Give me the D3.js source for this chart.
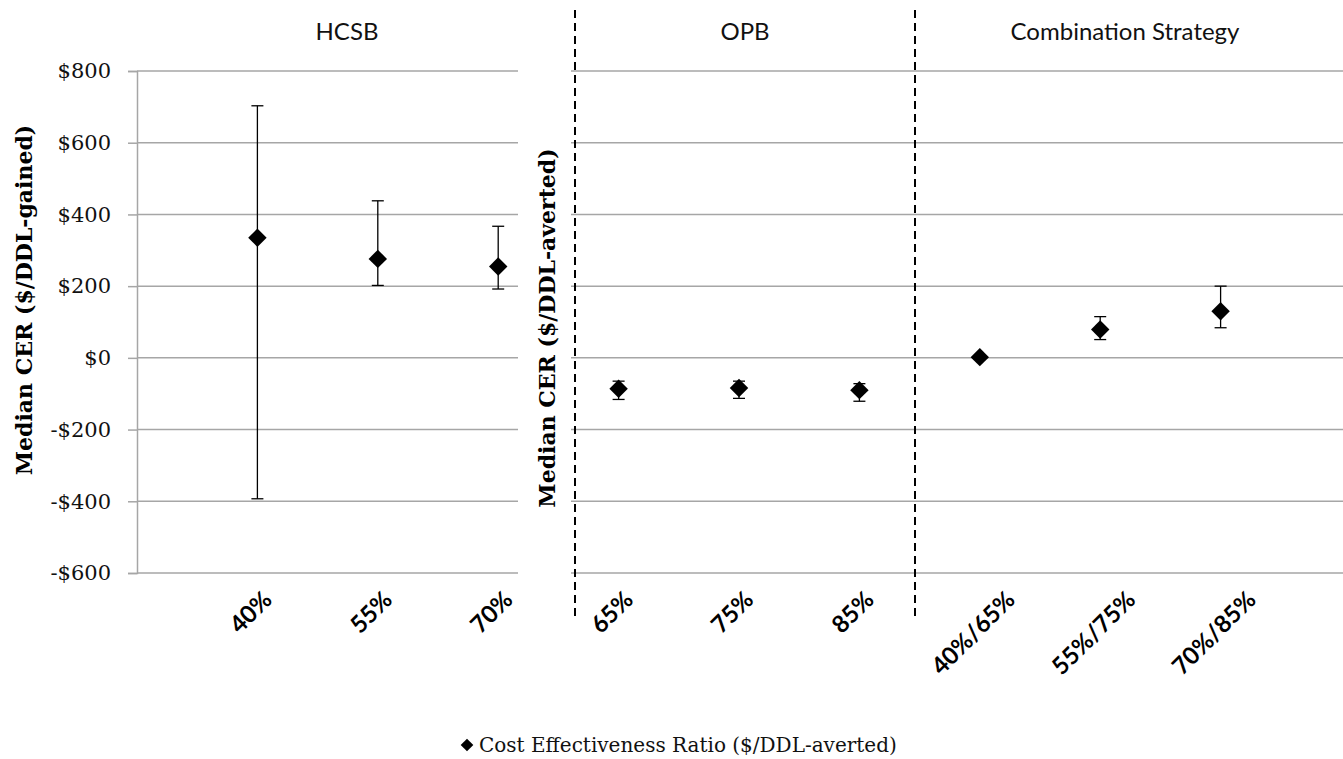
<!DOCTYPE html>
<html>
<head>
<meta charset="utf-8">
<script src="https://cdn.jsdelivr.net/npm/d3@7"></script>
<style>
  body { margin: 0; background: #fff; }
  svg { display: block; }
</style>
</head>
<body>
<svg id="chart" width="1343" height="759"></svg>
<script>
(function () {
  'use strict';

  // values
  var hcsbCategories = ['40%', '55%', '70%'];
  var hcsbMedian = [335, 276, 255];
  var hcsbLow = [-393, 202, 192];
  var hcsbHigh = [703, 438, 367];

  var opbCategories = ['65%', '75%', '85%'];
  var opbMedian = [-86, -84, -90];
  var opbLow = [-116, -113, -121];
  var opbHigh = [-65, -65, -72];

  var comboCategories = ['40%/65%', '55%/75%', '70%/85%'];
  var comboMedian = [2, 79, 130];
  var comboLow = [-2, 51, 84];
  var comboHigh = [6, 115, 200];

  var panelTitles = ['HCSB', 'OPB', 'Combination Strategy'];
  var yTicks = [-600, -400, -200, 0, 200, 400, 600, 800];
  var legendLabel = 'Cost Effectiveness Ratio ($/DDL-averted)';

  var sansFont = 'Lato, "Open Sans", sans-serif';
  var serifFont = '"DejaVu Serif", "Liberation Serif", serif';
  var gridColor = '#a6a6a6';

  var svg = d3.select('#chart');

  // one long category axis, split into three panels by the dashed lines
  var categories = hcsbCategories.concat(opbCategories, comboCategories);
  var points = [];
  [[hcsbCategories, hcsbMedian, hcsbLow, hcsbHigh],
   [opbCategories, opbMedian, opbLow, opbHigh],
   [comboCategories, comboMedian, comboLow, comboHigh]].forEach(function (g) {
    g[0].forEach(function (c, i) {
      points.push({ cat: c, median: g[1][i], low: g[2][i], high: g[3][i] });
    });
  });

  var x = d3.scalePoint().domain(categories).range([137, 1341]).padding(1);
  var y = d3.scaleLinear().domain([-600, 800]).range([573, 71]);

  var leftEnd = 518;      // end of the HCSB grid
  var midStart = 575;     // first dashed divider (also 2nd y axis)
  var rightDivider = 915; // second dashed divider

  // gridlines
  var grid = svg.append('g');
  grid.selectAll('.gl')
    .data(yTicks)
    .enter().append('line')
    .attr('x1', 137).attr('x2', leftEnd)
    .attr('y1', function (d) { return y(d); })
    .attr('y2', function (d) { return y(d); })
    .attr('stroke', gridColor).attr('stroke-width', 1.5);
  grid.selectAll('.gr')
    .data(yTicks)
    .enter().append('line')
    .attr('x1', midStart - 4).attr('x2', 1343)
    .attr('y1', function (d) { return y(d); })
    .attr('y2', function (d) { return y(d); })
    .attr('stroke', gridColor).attr('stroke-width', 1.5);

  // left y axis
  var yAxis = d3.axisLeft(y)
    .tickValues(yTicks)
    .tickSize(9)
    .tickPadding(17)
    .tickFormat(function (d) { return (d < 0 ? '-$' : '$') + Math.abs(d); });
  var ay = svg.append('g').attr('transform', 'translate(137,0)').call(yAxis);
  ay.select('.domain').attr('stroke', gridColor).attr('stroke-width', 1.5);
  ay.selectAll('.tick line').attr('stroke', gridColor).attr('stroke-width', 1.5);
  ay.selectAll('.tick text')
    .attr('font-family', serifFont)
    .attr('font-size', 21)
    .attr('fill', '#111');

  // dashed dividers
  svg.selectAll('.divider')
    .data([midStart, rightDivider])
    .enter().append('line')
    .attr('x1', function (d) { return d; })
    .attr('x2', function (d) { return d; })
    .attr('y1', 10).attr('y2', 618)
    .attr('stroke', '#000')
    .attr('stroke-width', 2)
    .attr('stroke-dasharray', '8,5');

  // axis titles
  svg.append('text')
    .attr('transform', 'translate(24,300) rotate(-90)')
    .attr('text-anchor', 'middle')
    .attr('dy', '0.35em')
    .attr('font-family', serifFont)
    .attr('font-weight', 'bold')
    .attr('font-size', 22)
    .text('Median CER ($/DDL-gained)');
  svg.append('text')
    .attr('transform', 'translate(547,328) rotate(-90)')
    .attr('text-anchor', 'middle')
    .attr('dy', '0.35em')
    .attr('font-family', serifFont)
    .attr('font-weight', 'bold')
    .attr('font-size', 22)
    .text('Median CER ($/DDL-averted)');

  // panel titles
  svg.selectAll('.ptitle')
    .data(panelTitles)
    .enter().append('text')
    .attr('x', function (d, i) { return [347, 745, 1125][i]; })
    .attr('y', 40)
    .attr('text-anchor', 'middle')
    .attr('font-family', sansFont)
    .attr('font-size', 24)
    .attr('fill', '#111')
    .text(function (d) { return d; });

  // error bars
  var capW = 6;
  var bars = svg.append('g').attr('stroke', '#000').attr('stroke-width', 1.3);
  bars.selectAll('.stem')
    .data(points)
    .enter().append('line')
    .attr('x1', function (d) { return x(d.cat); })
    .attr('x2', function (d) { return x(d.cat); })
    .attr('y1', function (d) { return y(d.low); })
    .attr('y2', function (d) { return y(d.high); });
  ['low', 'high'].forEach(function (k) {
    bars.selectAll('.cap-' + k)
      .data(points)
      .enter().append('line')
      .attr('x1', function (d) { return x(d.cat) - capW; })
      .attr('x2', function (d) { return x(d.cat) + capW; })
      .attr('y1', function (d) { return y(d[k]); })
      .attr('y2', function (d) { return y(d[k]); });
  });

  // diamond markers
  var diamond = d3.symbol().type(d3.symbolSquare).size(170);
  svg.selectAll('.marker')
    .data(points)
    .enter().append('path')
    .attr('d', diamond)
    .attr('transform', function (d) {
      return 'translate(' + x(d.cat) + ',' + y(d.median) + ') rotate(45)';
    })
    .attr('fill', '#000');

  // rotated category labels, roughly centred under the category
  var labelSize = 24;
  var asc = 0.72 * labelSize;
  svg.selectAll('.xlab')
    .data(categories)
    .enter().append('text')
    .attr('text-anchor', 'end')
    .attr('font-family', sansFont)
    .attr('font-weight', 'bold')
    .attr('font-size', labelSize)
    .attr('fill', '#000')
    .text(function (d) { return d; })
    .each(function (d) {
      var len = this.getComputedTextLength();
      var ex = x(d) - 7 + 0.354 * (len + asc);
      var ey = 589 + 0.707 * asc;
      d3.select(this).attr('transform', 'translate(' + ex + ',' + ey + ') rotate(-45)');
    });

  // legend
  var legend = svg.append('g').attr('transform', 'translate(467,745)');
  legend.append('path')
    .attr('d', d3.symbol().type(d3.symbolSquare).size(80))
    .attr('transform', 'rotate(45)')
    .attr('fill', '#000');
  legend.append('text')
    .attr('x', 12)
    .attr('dy', '0.35em')
    .attr('font-family', serifFont)
    .attr('font-size', 20)
    .attr('fill', '#111')
    .text(legendLabel);
}());
</script>
</body>
</html>
